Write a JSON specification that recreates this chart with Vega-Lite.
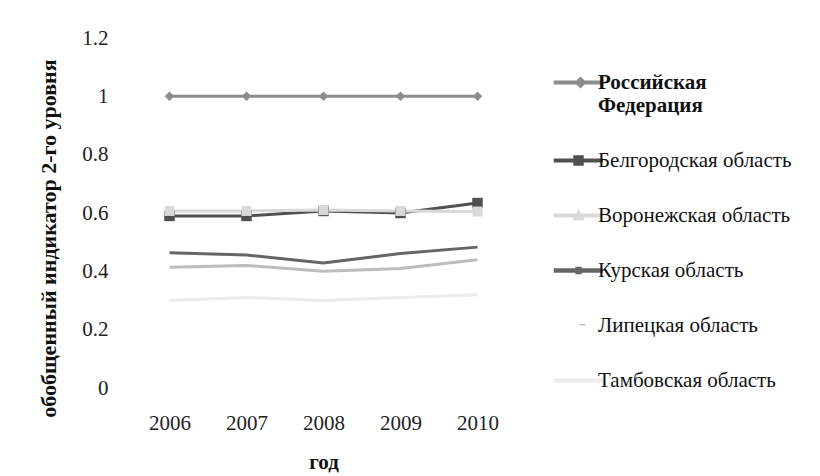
{
  "$schema": "https://vega.github.io/schema/vega-lite/v6.json",
  "width": 385,
  "height": 350,
  "autosize": {"type": "none"},
  "padding": {"left": 131, "top": 38, "right": 304, "bottom": 88},
  "background": "white",
  "config": {
    "view": {"stroke": null},
    "font": "Liberation Serif",
    "axis": {"grid": false, "domain": false, "ticks": false, "labelFont": "Liberation Serif", "labelFontSize": 21, "labelColor": "#222", "titleFont": "Liberation Serif", "titleColor": "#111"},
    "legend": {
      "orient": "none", "legendX": 439, "legendY": 34, "title": null, "padding": 0,
      "labelFont": "Liberation Serif", "labelFontSize": 21, "labelColor": "#111", "labelLimit": 400,
      "labelOffset": 7, "rowPadding": 33, "symbolOpacity": 1
    }
  },
  "data": {
    "values": [
      {"year": "2006", "region": "Российская Федерация", "value": 1.0},
      {"year": "2007", "region": "Российская Федерация", "value": 1.0},
      {"year": "2008", "region": "Российская Федерация", "value": 1.0},
      {"year": "2009", "region": "Российская Федерация", "value": 1.0},
      {"year": "2010", "region": "Российская Федерация", "value": 1.0},
      {"year": "2006", "region": "Белгородская область", "value": 0.59},
      {"year": "2007", "region": "Белгородская область", "value": 0.59},
      {"year": "2008", "region": "Белгородская область", "value": 0.607},
      {"year": "2009", "region": "Белгородская область", "value": 0.6},
      {"year": "2010", "region": "Белгородская область", "value": 0.634},
      {"year": "2006", "region": "Воронежская область", "value": 0.607},
      {"year": "2007", "region": "Воронежская область", "value": 0.607},
      {"year": "2008", "region": "Воронежская область", "value": 0.61},
      {"year": "2009", "region": "Воронежская область", "value": 0.607},
      {"year": "2010", "region": "Воронежская область", "value": 0.605},
      {"year": "2006", "region": "Курская область", "value": 0.464},
      {"year": "2007", "region": "Курская область", "value": 0.456},
      {"year": "2008", "region": "Курская область", "value": 0.429},
      {"year": "2009", "region": "Курская область", "value": 0.461},
      {"year": "2010", "region": "Курская область", "value": 0.483},
      {"year": "2006", "region": "Липецкая область", "value": 0.414},
      {"year": "2007", "region": "Липецкая область", "value": 0.42},
      {"year": "2008", "region": "Липецкая область", "value": 0.4},
      {"year": "2009", "region": "Липецкая область", "value": 0.41},
      {"year": "2010", "region": "Липецкая область", "value": 0.44},
      {"year": "2006", "region": "Тамбовская область", "value": 0.3},
      {"year": "2007", "region": "Тамбовская область", "value": 0.31},
      {"year": "2008", "region": "Тамбовская область", "value": 0.3},
      {"year": "2009", "region": "Тамбовская область", "value": 0.31},
      {"year": "2010", "region": "Тамбовская область", "value": 0.32}
    ]
  },
  "encoding": {
    "x": {
      "field": "year", "type": "ordinal",
      "scale": {"type": "point", "padding": 0.5},
      "axis": {"labelAngle": 0, "labelPadding": 24, "title": "год", "titleFontSize": 21, "titleFontWeight": "bold", "titlePadding": 18}
    },
    "y": {
      "field": "value", "type": "quantitative",
      "scale": {"domain": [0, 1.2]},
      "axis": {"values": [0, 0.2, 0.4, 0.6, 0.8, 1, 1.2], "format": "~g", "labelPadding": 23, "title": "обобщенный индикатор 2-го уровня", "titleFontSize": 22, "titleFontWeight": "bold", "titlePadding": 21, "titleY": 200}
    },
    "color": {
      "field": "region", "type": "nominal",
      "scale": {
        "domain": ["Российская Федерация", "Белгородская область", "Воронежская область", "Курская область", "Липецкая область", "Тамбовская область"],
        "range": ["#8c8c8c", "#505050", "#d9d9d9", "#666666", "#bdbdbd", "#ececec"]
      },
      "legend": {
        "labelFont": "Liberation Serif", "labelFontSize": 21,
        "labelExpr": "datum.value === 'Российская Федерация' ? ['Российская', 'Федерация'] : datum.value",
        "encode": {
          "labels": {"update": {"font": {"value": "Liberation Serif"}, "fontWeight": [{"test": "datum.value === 'Российская Федерация'", "value": "bold"}, {"value": "normal"}]}},
          "symbols": {"update": {"opacity": {"value": 1}}}
        }
      }
    }
  },
  "layer": [
    {
      "mark": {"type": "line", "strokeWidth": 3}
    },
    {
      "transform": [{"filter": "datum.region === 'Российская Федерация'"}],
      "mark": {"type": "point", "shape": "diamond", "filled": true, "size": 90, "opacity": 1}
    },
    {
      "transform": [{"filter": "datum.region === 'Белгородская область'"}],
      "mark": {"type": "point", "shape": "square", "filled": true, "size": 110, "opacity": 1}
    },
    {
      "transform": [{"filter": "datum.region === 'Воронежская область'"}],
      "mark": {"type": "point", "shape": "square", "filled": true, "size": 100, "opacity": 1}
    },
    {
      "mark": {"type": "point", "filled": true, "size": 100, "opacity": 0},
      "encoding": {
        "shape": {
          "field": "region", "type": "nominal",
          "scale": {
            "domain": ["Российская Федерация", "Белгородская область", "Воронежская область", "Курская область", "Липецкая область", "Тамбовская область"],
            "range": [
              "M-5.2,-0.25H4.3V0.25H-5.2Z M0,-1L1,0L0,1L-1,0Z",
              "M-5.2,-0.25H4.3V0.25H-5.2Z M-1.3,-0.9H0.5V0.9H-1.3Z",
              "M-5.2,-0.25H4.3V0.25H-5.2Z M-0.4,-1L0.6,0.8H-1.4Z",
              "M-5.2,-0.3H4.3V0.3H-5.2Z M-0.9,-0.6H0.1V0.6H-0.9Z",
              "M-0.2,-0.15H1H0.15H-0.2Z",
              "M-5.2,-0.25H4.3V0.25H-5.2Z"
            ]
          },
          "legend": {
            "labelFont": "Liberation Serif", "labelFontSize": 21,
            "labelExpr": "datum.value === 'Российская Федерация' ? ['Российская', 'Федерация'] : datum.value",
            "encode": {
              "labels": {"update": {"font": {"value": "Liberation Serif"}, "fontWeight": [{"test": "datum.value === 'Российская Федерация'", "value": "bold"}, {"value": "normal"}]}},
              "symbols": {"update": {"opacity": {"value": 1}}}
            }
          }
        }
      }
    }
  ]
}
